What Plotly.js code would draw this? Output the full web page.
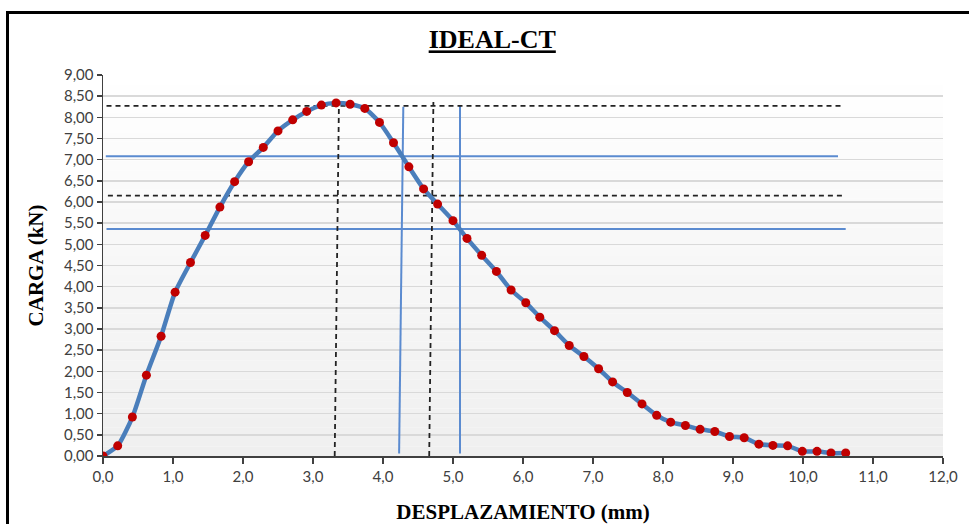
<!DOCTYPE html>
<html>
<head>
<meta charset="utf-8">
<script src="https://cdn.plot.ly/plotly-3.0.1.min.js"></script>
<style>
  html, body { margin: 0; padding: 0; background: #fff; }
  #wrap { position: relative; width: 969px; height: 524px; overflow: hidden; }
  #chart { position: absolute; left: 0; top: 0; width: 969px; height: 524px; }
  #frame { position: absolute; left: 6px; top: 11px; width: 990px; height: 540px;
           border: 3px solid #000; pointer-events: none; box-sizing: border-box; }
</style>
</head>
<body>
<div id="wrap">
  <div id="chart"></div>
  <div id="frame"></div>
</div>
<script>
// Displacement (mm) and load (kN)
const desplazamiento = [0, 0.21, 0.42, 0.62, 0.83, 1.03, 1.25, 1.46, 1.67, 1.88, 2.08, 2.29, 2.50,
  2.71, 2.91, 3.12, 3.33, 3.53, 3.74, 3.95, 4.15, 4.37, 4.58, 4.78, 5.00, 5.20, 5.41, 5.62, 5.83,
  6.04, 6.24, 6.45, 6.66, 6.87, 7.08, 7.28, 7.49, 7.70, 7.91, 8.11, 8.32, 8.53, 8.74, 8.95, 9.16,
  9.37, 9.57, 9.78, 9.99, 10.20, 10.40, 10.61];
const carga = [0, 0.24, 0.92, 1.91, 2.83, 3.87, 4.57, 5.21, 5.88, 6.48, 6.95, 7.29, 7.68,
  7.94, 8.14, 8.29, 8.34, 8.31, 8.21, 7.88, 7.40, 6.83, 6.31, 5.95, 5.56, 5.14, 4.74, 4.36, 3.92,
  3.62, 3.28, 2.96, 2.61, 2.35, 2.06, 1.75, 1.50, 1.23, 0.96, 0.80, 0.72, 0.63, 0.58, 0.46, 0.43,
  0.28, 0.25, 0.24, 0.11, 0.11, 0.07, 0.07];

// Reference (construction) lines: dashed black and solid blue segments
const refDashX = [[0.05, 10.57], [0.07, 10.61], [3.31, 3.37], [4.66, 4.72]];
const refDashY = [[8.27, 8.27], [6.15, 6.15], [0, 8.27], [0, 8.36]];
const refBlueX = [[0.04, 10.50], [0.05, 10.61], [4.23, 4.29], [5.10, 5.10]];
const refBlueY = [[7.08, 7.08], [5.36, 5.36], [0.06, 8.25], [0.06, 8.28]];

const titleText = 'IDEAL-CT';
const xTitle = 'DESPLAZAMIENTO (mm)';
const yTitle = 'CARGA (kN)';

function joinSegments(segs) {
  const out = [];
  segs.forEach((s, i) => { if (i) out.push(null); out.push(...s); });
  return out;
}

const traces = [
  {
    x: joinSegments(refBlueX), y: joinSegments(refBlueY), type: 'scatter', mode: 'lines',
    line: { color: '#5b8bd0', width: 2 }, hoverinfo: 'skip', connectgaps: false
  },
  {
    x: joinSegments(refDashX), y: joinSegments(refDashY), type: 'scatter', mode: 'lines',
    line: { color: '#222', width: 1.8, dash: '5px,4px' }, hoverinfo: 'skip', connectgaps: false
  },
  {
    x: desplazamiento, y: carga, type: 'scatter', mode: 'lines+markers',
    line: { color: '#4a7ebb', width: 4.5, shape: 'spline', smoothing: 0.6 },
    marker: { color: '#c00000', size: 9, line: { width: 0 } }
  }
];

// vertical white -> light gray gradient behind the plot area
const shapes = [];
const nBands = 40;
for (let i = 0; i < nBands; i++) {
  const f = i / nBands;            // 0 at bottom
  const g = Math.round(239 + 16 * (f + 0.5 / nBands));
  shapes.push({
    type: 'rect', xref: 'x domain', yref: 'y domain', layer: 'below',
    x0: 0, x1: 1, y0: f, y1: (i + 1) / nBands,
    fillcolor: `rgb(${g},${g},${g})`, line: { width: 0 }
  });
}

const tickFont = { family: 'Lato, "Open Sans", sans-serif', size: 15, color: '#404040' };
const serifBold = 'Liberation Serif, "Times New Roman", serif';

const layout = {
  width: 969, height: 524,
  margin: { l: 103, r: 26, t: 75, b: 68 },
  paper_bgcolor: '#ffffff', plot_bgcolor: 'rgba(0,0,0,0)',
  separators: ',.',
  showlegend: false,
  hovermode: false,
  title: {
    text: titleText, xref: 'container', yref: 'container',
    x: 0.508, xanchor: 'center', y: 0.925, yanchor: 'middle',
    font: { family: serifBold, size: 26, color: '#000', weight: 'bold', lineposition: 'under' }
  },
  xaxis: {
    range: [0, 12], dtick: 1, tick0: 0, tickformat: '.1f',
    showgrid: false, zeroline: false,
    showline: true, linecolor: '#404040', linewidth: 1.5,
    ticks: 'outside', ticklen: 6, tickcolor: '#404040', tickwidth: 1.5,
    tickfont: tickFont,
    title: { text: xTitle, standoff: 22,
      font: { family: serifBold, size: 21, color: '#000', weight: 'bold' } }
  },
  yaxis: {
    range: [0, 9], dtick: 0.5, tick0: 0, tickformat: '.2f',
    showgrid: true, gridcolor: '#d9d9d9', gridwidth: 1.5, zeroline: false,
    showline: true, linecolor: '#404040', linewidth: 1.5,
    ticks: 'outside', ticklen: 5, tickcolor: '#404040', tickwidth: 1.5,
    tickfont: tickFont,
    title: { text: yTitle, standoff: 14,
      font: { family: serifBold, size: 21, color: '#000', weight: 'bold' } }
  },
  shapes: shapes
};

Plotly.newPlot('chart', traces, layout, { displayModeBar: false, staticPlot: true });
</script>
</body>
</html>
